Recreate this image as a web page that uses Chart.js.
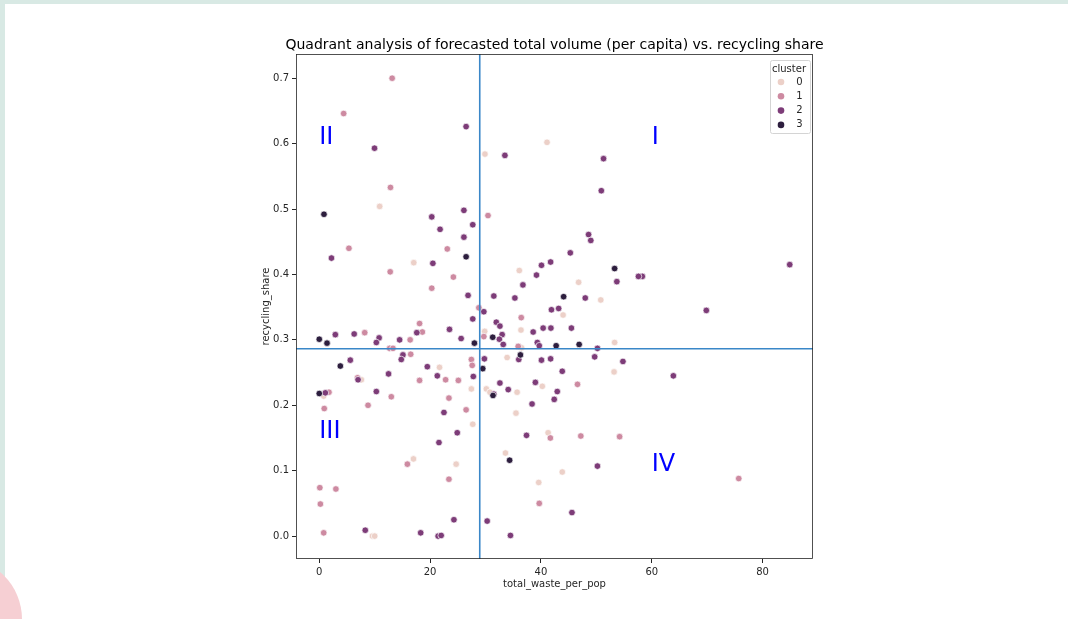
<!DOCTYPE html>
<html>
<head>
<meta charset="utf-8">
<title>Quadrant analysis</title>
<script src="https://cdn.jsdelivr.net/npm/chart.js@4.4.1/dist/chart.umd.min.js"></script>
<style>
  html, body { margin: 0; padding: 0; background: #ffffff; }
  body { width: 1068px; height: 619px; position: relative; overflow: hidden; }
  .band-top { position: absolute; left: 0; top: 0; width: 1068px; height: 4px; background: #d8e9e4; }
  .band-left { position: absolute; left: 0; top: 0; width: 5px; height: 619px; background: #d8e9e4; }
  .blob { position: absolute; left: -100px; top: 558px; width: 122px; height: 122px; border-radius: 50%; background: #f6cfd3; }
  #chart { position: absolute; left: 0; top: 0; }
</style>
</head>
<body>
<div class="band-top"></div>
<div class="band-left"></div>
<div class="blob"></div>
<canvas id="chart" width="1068" height="619"></canvas>
<script>
// values
const chartTitle = "Quadrant analysis of forecasted total volume (per capita) vs. recycling share";
const clusterNames = ["0", "1", "2", "3"];
const clusterColors = ["#ecd0c8", "#cd8aa1", "#7d3c78", "#2d1e3e"];

const cluster0X = [10.9, 41.1, 29.9, 17.05, 36.1, 46.8, 50.8, 44.0, 36.4, 29.85, 53.3, 36.5, 21.7, 7.6, 27.45, 0.8,
  27.7, 33.9, 53.2, 40.25, 30.15, 30.8, 35.7, 35.5, 41.3, 33.6, 43.85, 39.6, 17.0, 24.7, 9.6, 10.0];
const cluster0Y = [0.504, 0.602, 0.584, 0.418, 0.406, 0.388, 0.361, 0.338, 0.315, 0.313, 0.296, 0.288, 0.258, 0.239, 0.225, 0.214,
  0.171, 0.273, 0.251, 0.229, 0.225, 0.220, 0.220, 0.188, 0.158, 0.127, 0.098, 0.082, 0.118, 0.110, 0.0, 0.0];

const cluster1X = [13.15, 4.4, 12.85, 30.45, 5.35, 23.1, 12.8, 24.2, 20.3, 18.1, 18.6, 8.2, 16.4, 12.7, 13.3, 28.8,
  36.45, 29.7, 35.9, 16.5, 22.8, 25.1, 18.1, 6.9, 27.45, 27.6, 1.75, 13.0, 23.4, 8.8, 0.9, 26.5,
  46.6, 41.7, 47.2, 54.2, 75.7, 39.7, 15.9, 23.4, 0.1, 3.0, 0.2, 0.8];
const cluster1Y = [0.700, 0.646, 0.533, 0.490, 0.440, 0.439, 0.404, 0.396, 0.379, 0.325, 0.312, 0.311, 0.300, 0.287, 0.287, 0.349,
  0.334, 0.305, 0.290, 0.278, 0.239, 0.238, 0.238, 0.242, 0.270, 0.261, 0.220, 0.213, 0.211, 0.200, 0.195, 0.193,
  0.232, 0.150, 0.153, 0.152, 0.088, 0.050, 0.110, 0.087, 0.074, 0.072, 0.049, 0.005];

const cluster2X = [26.5, 9.97, 20.3, 26.1, 27.7, 33.5, 51.3, 50.9, 58.3, 57.6, 84.9, 69.85, 63.9, 21.8, 26.1, 2.2,
  20.5, 26.85, 27.7, 23.5, 17.6, 6.3, 2.9, 10.8, 10.3, 14.5, 25.6, 48.6, 49.0, 45.3, 41.75, 40.1,
  39.2, 53.7, 36.75, 31.5, 35.3, 48.0, 29.7, 41.9, 43.2, 31.95, 32.6, 40.4, 41.8, 45.5, 38.6, 33.0,
  32.5, 33.2, 39.35, 39.7, 50.2, 15.1, 14.8, 5.6, 12.5, 19.5, 21.3, 7.0, 27.8, 10.3, 1.1, 22.5,
  24.9, 21.6, 29.8, 36.0, 40.1, 41.75, 49.7, 54.8, 43.85, 32.6, 39.0, 31.5, 34.1, 42.95, 42.4, 38.4,
  37.4, 50.2, 45.6, 30.3, 34.5, 24.3, 8.3, 18.3, 21.45, 22.0];
const cluster2Y = [0.626, 0.593, 0.488, 0.498, 0.476, 0.582, 0.577, 0.528, 0.397, 0.397, 0.415, 0.345, 0.245, 0.469, 0.457, 0.425,
  0.417, 0.368, 0.332, 0.316, 0.311, 0.309, 0.308, 0.303, 0.296, 0.300, 0.302, 0.461, 0.452, 0.433, 0.419, 0.414,
  0.399, 0.389, 0.384, 0.367, 0.364, 0.364, 0.343, 0.346, 0.348, 0.327, 0.321, 0.318, 0.318, 0.318, 0.312, 0.308,
  0.301, 0.293, 0.296, 0.291, 0.287, 0.277, 0.270, 0.269, 0.248, 0.259, 0.245, 0.239, 0.244, 0.221, 0.219, 0.189,
  0.158, 0.143, 0.271, 0.270, 0.269, 0.271, 0.274, 0.267, 0.252, 0.234, 0.235, 0.217, 0.224, 0.221, 0.209, 0.202,
  0.154, 0.107, 0.036, 0.023, 0.001, 0.025, 0.009, 0.005, 0.0, 0.001];

const cluster3X = [0.85, 26.5, 53.3, 44.1, 0.0, 1.4, 28.0, 31.3, 42.75, 46.9, 3.8, 0.0, 29.5, 36.3, 31.35, 34.35];
const cluster3Y = [0.492, 0.427, 0.409, 0.366, 0.301, 0.295, 0.295, 0.304, 0.291, 0.293, 0.260, 0.218, 0.256, 0.277, 0.215, 0.116];

const clusterX = [cluster0X, cluster1X, cluster2X, cluster3X];
const clusterY = [cluster0Y, cluster1Y, cluster2Y, cluster3Y];

// split lines (means) and axis limits
const xSplit = 28.96;
const ySplit = 0.2863;
const xLimits = [-4.2, 89.1];
const yLimits = [-0.035, 0.737];
const xTicks = [0, 20, 40, 60, 80];
const yTicks = [0, 0.1, 0.2, 0.3, 0.4, 0.5, 0.6, 0.7];

const quadrantNames = ["I", "II", "III", "IV"];
const quadrantX = [60, 0, 0, 60];
const quadrantY = [0.6, 0.6, 0.15, 0.1];

Chart.defaults.font.family = '"DejaVu Sans", sans-serif';
Chart.defaults.color = "#262626";

const toPoints = (xs, ys) => xs.map((x, i) => ({ x: x, y: ys[i] }));

// title centred over the axes, not squeezed to their width
const axesTitle = {
  id: "axesTitle",
  afterDraw(chart) {
    const { ctx, chartArea } = chart;
    ctx.save();
    ctx.fillStyle = "#000000";
    ctx.font = '14px "DejaVu Sans"';
    ctx.textAlign = "center";
    ctx.textBaseline = "middle";
    ctx.fillText(chartTitle, (chartArea.left + chartArea.right) / 2, chartArea.top - 9);
    ctx.restore();
  }
};

const frameBox = {
  id: "frameBox",
  afterDatasetsDraw(chart) {
    const { ctx, chartArea } = chart;
    ctx.save();
    ctx.strokeStyle = "#262626";
    ctx.lineWidth = 0.8;
    ctx.strokeRect(Math.round(chartArea.left) + 0.5, Math.round(chartArea.top) + 0.5,
      Math.round(chartArea.width) - 1, Math.round(chartArea.height) - 1);
    ctx.restore();
  }
};

const quadrantLabels = {
  id: "quadrantLabels",
  afterDatasetsDraw(chart) {
    const { ctx } = chart;
    const x = chart.scales.x, y = chart.scales.y;
    ctx.save();
    ctx.fillStyle = "#0000ff";
    ctx.font = '24px "DejaVu Sans"';
    ctx.textAlign = "left";
    ctx.textBaseline = "alphabetic";
    quadrantNames.forEach((name, i) => {
      ctx.fillText(name, x.getPixelForValue(quadrantX[i]), y.getPixelForValue(quadrantY[i]));
    });
    ctx.restore();
  }
};

// matplotlib style legend in the top right corner of the axes
const clusterLegend = {
  id: "clusterLegend",
  afterDraw(chart) {
    const { ctx, chartArea } = chart;
    const w = 40, h = 73;
    const left = chartArea.right - w - 3, top = chartArea.top + 6;
    ctx.save();
    ctx.fillStyle = "rgba(255,255,255,0.85)";
    ctx.strokeStyle = "#d4d4d4";
    ctx.lineWidth = 1;
    ctx.beginPath();
    ctx.roundRect(left + 0.5, top + 0.5, w, h, 2);
    ctx.fill();
    ctx.stroke();
    ctx.fillStyle = "#262626";
    ctx.font = '10px "DejaVu Sans"';
    ctx.textAlign = "center";
    ctx.textBaseline = "middle";
    ctx.fillText("cluster", left + w / 2 - 1, top + 9);
    clusterNames.forEach((name, i) => {
      const cy = top + 22 + i * 14.3;
      ctx.beginPath();
      ctx.arc(left + 11, cy, 3.3, 0, Math.PI * 2);
      ctx.fillStyle = clusterColors[i];
      ctx.fill();
      ctx.fillStyle = "#262626";
      ctx.fillText(name, left + 29.5, cy);
    });
    ctx.restore();
  }
};

const splitStyle = {
  showLine: true,
  borderColor: "#3a87c8",
  borderWidth: 1.6,
  pointRadius: 0,
  pointHoverRadius: 0,
  fill: false,
  order: 0
};

const datasets = [
  Object.assign({ label: "x split", data: [{ x: xSplit, y: yLimits[0] }, { x: xSplit, y: yLimits[1] }] }, splitStyle),
  Object.assign({ label: "y split", data: [{ x: xLimits[0], y: ySplit }, { x: xLimits[1], y: ySplit }] }, splitStyle)
];

clusterNames.forEach((name, i) => {
  datasets.push({
    label: name,
    data: toPoints(clusterX[i], clusterY[i]),
    backgroundColor: clusterColors[i],
    borderColor: "#ffffff",
    borderWidth: 0.7,
    pointRadius: 3.3,
    order: 10 - i
  });
});

const ctx = document.getElementById("chart").getContext("2d");
const myChart = new Chart(ctx, {
  type: "scatter",
  data: { datasets: datasets },
  plugins: [axesTitle, frameBox, quadrantLabels, clusterLegend],
  options: {
    responsive: false,
    animation: false,
    devicePixelRatio: 1,
    layout: { padding: { left: 236, right: 255, top: 54, bottom: 0 } },
    plugins: {
      legend: { display: false },
      tooltip: { enabled: false },
      title: { display: false }
    },
    scales: {
      x: {
        type: "linear",
        min: xLimits[0],
        max: xLimits[1],
        afterFit: (scale) => { scale.height = 60; },
        afterBuildTicks: (scale) => { scale.ticks = xTicks.map((v) => ({ value: v })); },
        grid: { display: true, drawOnChartArea: false, drawTicks: true, tickLength: 4, tickColor: "#262626" },
        border: { display: false },
        ticks: { padding: 3, font: { size: 10 }, maxRotation: 0, callback: (v) => String(v) },
        title: { display: true, text: "total_waste_per_pop", font: { size: 10 }, padding: { top: 4, bottom: 29 } }
      },
      y: {
        type: "linear",
        min: yLimits[0],
        max: yLimits[1],
        afterFit: (scale) => { scale.width = 60; },
        afterBuildTicks: (scale) => { scale.ticks = yTicks.map((v) => ({ value: v })); },
        grid: { display: true, drawOnChartArea: false, drawTicks: true, tickLength: 4, tickColor: "#262626" },
        border: { display: false },
        ticks: { padding: 3, font: { size: 10 }, callback: (v) => Number(v).toFixed(1) },
        title: { display: true, text: "recycling_share", font: { size: 10 }, padding: { top: 24, bottom: 0 } }
      }
    }
  }
});
</script>
</body>
</html>
